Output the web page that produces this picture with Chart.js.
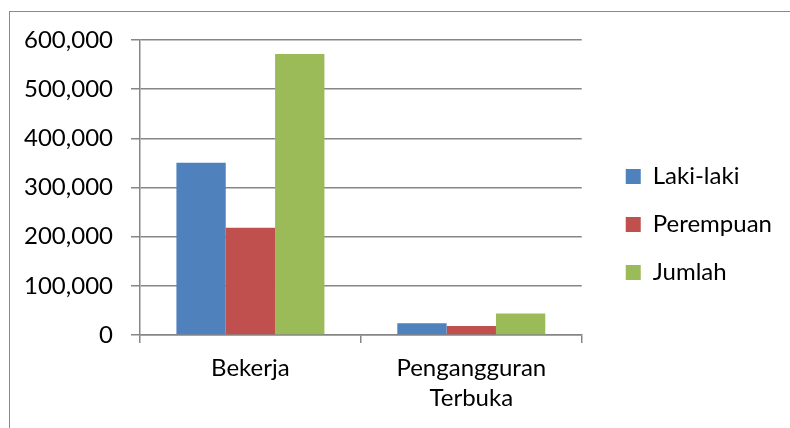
<!DOCTYPE html>
<html>
<head>
<meta charset="utf-8">
<script src="https://cdn.jsdelivr.net/npm/chart.js@4"></script>
<style>
html,body{margin:0;padding:0;background:#fff;}
#wrap{position:relative;width:790px;height:428px;overflow:hidden;}
#frame{position:absolute;left:9px;top:11px;width:900px;height:600px;border-left:1.5px solid #8a8a8a;border-top:1.5px solid #8a8a8a;}
canvas{position:absolute;left:0;top:0;}
</style>
</head>
<body>
<div id="wrap">
<div id="frame"></div>
<canvas id="c" width="790" height="428"></canvas>
</div>
<script>
const categories = ['Bekerja', ['Pengangguran', 'Terbuka']];
const seriesNames = ['Laki-laki', 'Perempuan', 'Jumlah'];
const lakiLaki = [350500, 24000];
const perempuan = [218000, 18500];
const jumlah = [571500, 43500];
const seriesColors = ['#4f81bd', '#c0504d', '#9bbb59'];

const FONT = 'Lato, "Open Sans", sans-serif';

// nudge the legend block (not data marks) to sit like the reference
const legendNudge = {
  id: 'legendNudge',
  afterLayout(chart) {
    const lg = chart.legend;
    if (!lg) return;
    lg.left += 20; lg.right += 20;
    lg.top -= 7; lg.bottom -= 7;
  }
};

new Chart(document.getElementById('c'), {
  type: 'bar',
  plugins: [legendNudge],
  data: {
    labels: categories,
    datasets: [lakiLaki, perempuan, jumlah].map((d, i) => ({
      label: seriesNames[i],
      data: d,
      backgroundColor: seriesColors[i],
      borderWidth: 0,
      categoryPercentage: 0.67,
      barPercentage: 1.0
    }))
  },
  options: {
    responsive: false,
    animation: false,
    devicePixelRatio: 1,
    layout: { padding: { left: 6, top: 40, right: 28, bottom: 5 } },
    plugins: {
      tooltip: { enabled: false },
      legend: {
        position: 'right',
        maxWidth: 230,
        labels: {
          font: { family: FONT, size: 24 },
          color: '#000',
          boxWidth: 15,
          boxHeight: 15,
          padding: 24
        }
      }
    },
    scales: {
      x: {
        grid: { drawOnChartArea: false, drawTicks: true, tickLength: 8, color: '#868686', lineWidth: 1.5 },
        border: { color: '#868686', width: 1.5 },
        ticks: { font: { family: FONT, size: 24, lineHeight: 1.25 }, color: '#000', padding: 10, maxRotation: 0 }
      },
      y: {
        min: 0,
        max: 600000,
        grid: { color: '#868686', lineWidth: 1.5, tickLength: 9 },
        border: { color: '#868686', width: 1.5 },
        ticks: {
          stepSize: 100000,
          font: { family: FONT, size: 24 },
          color: '#000',
          padding: 18,
          callback: v => v.toLocaleString('en-US')
        }
      }
    }
  }
});
</script>
</body>
</html>
